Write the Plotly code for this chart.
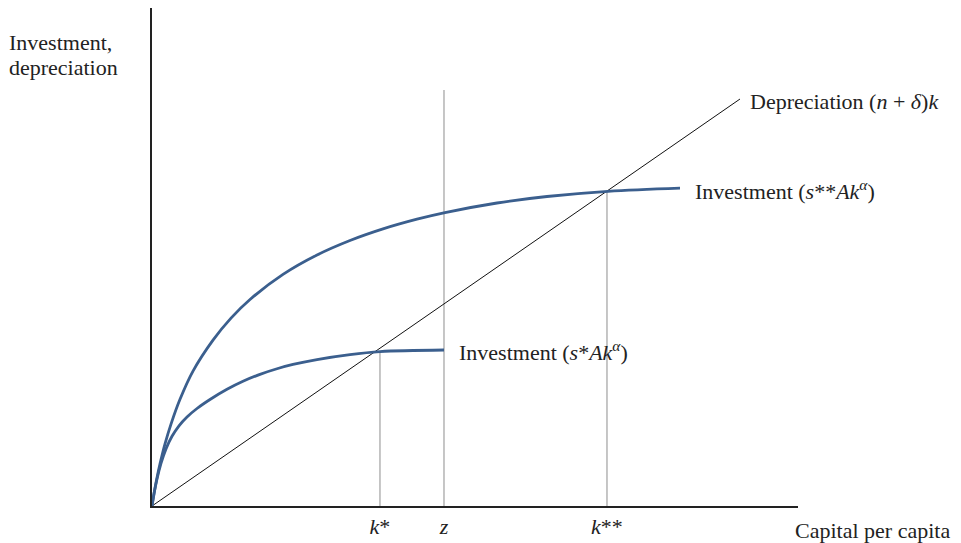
import plotly.graph_objects as go

# Capital per capita (x) and investment values (arbitrary units)
upper_k = [0, 0.310, 0.774, 1.238, 2.012, 2.941, 4.334, 6.347, 9.443, 12.229, 15.170,
           20.279, 25.542, 30.650, 35.759, 41.022, 45.356, 53.406, 61.146, 70.588, 81.734]
upper_inv = [0, 1.920, 4.381, 6.517, 9.613, 12.678, 16.517, 20.882, 25.681, 29.087, 31.966,
             35.851, 38.854, 41.099, 42.895, 44.396, 45.418, 46.904, 47.910, 48.715, 49.211]

lower_k = [0, 0.310, 0.774, 1.393, 2.167, 3.096, 4.180, 5.418, 6.966, 8.978, 11.610,
           14.087, 16.718, 19.350, 21.827, 25.542, 30.650, 35.294, 45.201]
lower_inv = [0, 1.858, 4.180, 6.594, 8.839, 10.789, 12.415, 13.777, 15.093, 16.486, 18.065,
             19.303, 20.382, 21.251, 21.907, 22.669, 23.435, 23.899, 24.147]

dep_k = [0, 91.02]
dep_val = [0, 63.00]

# Marked capital levels and heights of their vertical guide lines
mark_k = [35.29, 45.20, 70.43]
mark_top = [23.9, 64.4, 48.76]
tick_labels = ["<i>k</i>*", "<i>z</i>", "<i>k</i>**"]

FONT = "Liberation Serif"
BLUE = "#3b5f8e"
GREY = "#a8a8a8"
TXT = "#222222"

fig = go.Figure()

for k, top in zip(mark_k, mark_top):
    fig.add_trace(go.Scatter(x=[k, k], y=[0, top], mode="lines",
                             line=dict(color=GREY, width=1.3), hoverinfo="skip"))

fig.add_trace(go.Scatter(x=dep_k, y=dep_val, mode="lines",
                         line=dict(color="#111111", width=1)))
fig.add_trace(go.Scatter(x=upper_k, y=upper_inv, mode="lines",
                         line=dict(color=BLUE, width=2.8, shape="spline", smoothing=1.0)))
fig.add_trace(go.Scatter(x=lower_k, y=lower_inv, mode="lines",
                         line=dict(color=BLUE, width=2.8, shape="spline", smoothing=1.0)))

fs = 22
def note(x, y, text, ref="data"):
    xr, yr = ("x", "y") if ref == "data" else ("paper", "paper")
    fig.add_annotation(x=x, y=y, xref=xr, yref=yr, xanchor="left", yanchor="middle",
                       text=text, showarrow=False, align="left",
                       font=dict(family=FONT, size=fs, color=TXT))

note(92.26, 62.69, "Depreciation (<i>n</i> + <i>δ</i>)<i>k</i>")
note(83.75, 48.92, "Investment (<i>s</i>**<i>Ak</i><sup><i>α</i></sup>)")
note(47.21, 23.99, "Investment (<i>s</i>*<i>Ak</i><sup><i>α</i></sup>)")
note(-0.2245, 0.9317, "Investment,", ref="paper")
note(-0.2245, 0.8815, "depreciation", ref="paper")
note(0.992, -0.0482, "Capital per capita", ref="paper")

fig.update_layout(
    width=953, height=535,
    margin=dict(l=144, r=163, t=0, b=37),
    paper_bgcolor="white", plot_bgcolor="white",
    showlegend=False,
    xaxis=dict(range=[0, 100], showgrid=False, zeroline=False, showline=True,
               linecolor="#222", linewidth=1.5, tickmode="array", tickvals=mark_k,
               ticktext=tick_labels, ticks="", tickfont=dict(family=FONT, size=fs, color=TXT),
               fixedrange=True),
    yaxis=dict(range=[0, 77.09], showgrid=False, zeroline=False, showline=True,
               linecolor="#222", linewidth=1.5, showticklabels=False, ticks="",
               fixedrange=True),
)

fig.write_html("out.html")
